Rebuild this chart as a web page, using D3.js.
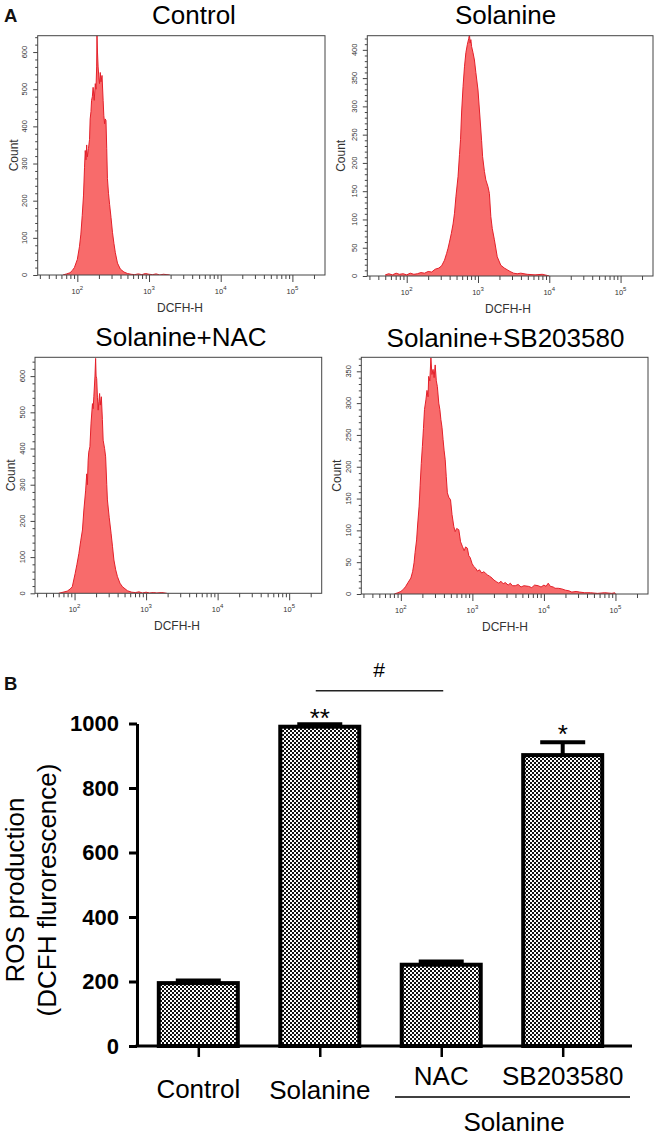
<!DOCTYPE html>
<html>
<head>
<meta charset="utf-8">
<script src="https://cdn.jsdelivr.net/npm/d3@7"></script>
<style>
  html, body { margin: 0; padding: 0; background: #fff; }
  svg { display: block; }
</style>
</head>
<body>
<svg id="chart" width="658" height="1137"></svg>
<script>
// ---------------- DATA ----------------
const panelTitles = ["Control", "Solanine", "Solanine+NAC", "Solanine+SB203580"];
const histXLabel = "DCFH-H";
const histYLabel = "Count";
const histXDomain = [28, 285000];
const histXMajorTicks = [100, 1000, 10000, 100000];
const histXExponents = ["2", "3", "4", "5"];
const histYMax = [644, 425, 652, 372];
const histYMajorTicks = [
  [0, 100, 200, 300, 400, 500, 600],
  [0, 50, 100, 150, 200, 250, 300, 350, 400],
  [0, 100, 200, 300, 400, 500, 600],
  [0, 50, 100, 150, 200, 250, 300, 350]
];
const histYMinorStep = [20, 10, 20, 10];

// [DCFH-H fluorescence, count]
const controlHist = [
  [63,0],[71,3],[79,6],[85,12],[91,20],[100,42],[107,76],[112,110],[117,160],[122,215],
  [126,290],[129,335],[132,310],[135,350],[138,318],[143,340],[148,365],[151,420],[155,440],
  [158,470],[162,480],[166,505],[172,470],[178,515],[182,500],[186,560],[188,645],[191,600],
  [195,560],[200,530],[204,515],[209,545],[214,520],[221,537],[229,470],[234,430],[240,407],
  [245,420],[251,416],[257,340],[263,260],[272,220],[282,190],[295,155],[309,115],[324,85],
  [339,60],[363,32],[398,16],[447,8],[501,4],[562,2],[631,1],[708,3],[794,1],[891,4],
  [1000,2],[1122,1],[1259,3],[1413,0],[1585,2],[1778,1],[1950,0]
];
const solanineHist = [
  [50,2],[56,4],[63,2],[71,5],[79,3],[89,4],[100,2],[112,5],[126,3],[141,4],[158,6],[178,5],
  [200,8],[224,7],[251,12],[282,14],[309,18],[339,28],[363,40],[380,49],[398,60],[422,75],
  [447,92],[468,111],[490,140],[525,176],[550,215],[569,241],[589,290],[617,335],[646,370],
  [676,395],[708,409],[741,420],[759,427],[776,412],[794,418],[813,406],[851,395],[891,382],
  [933,360],[1000,329],[1072,276],[1122,240],[1161,211],[1230,185],[1288,170],[1380,158],
  [1445,146],[1514,105],[1585,84],[1698,64],[1862,34],[2089,19],[2344,14],[2570,11],[2818,8],
  [3162,5],[3548,4],[3981,5],[4898,3],[6310,2],[7943,3],[9333,1],[10000,0]
];
const nacHist = [
  [60,0],[69,3],[79,6],[87,12],[93,18],[102,55],[108,80],[115,110],[122,145],[129,175],
  [135,230],[143,285],[148,330],[151,300],[155,368],[158,390],[164,405],[170,470],[178,524],
  [182,510],[186,543],[193,600],[197,649],[200,600],[204,593],[209,540],[214,506],[219,530],
  [224,552],[229,520],[237,543],[245,480],[251,423],[263,400],[272,377],[282,300],[288,258],
  [305,210],[324,166],[339,130],[355,92],[376,65],[398,46],[431,28],[468,18],[550,7],[631,3],
  [708,2],[794,4],[891,1],[1000,3],[1122,1],[1259,2],[1413,1],[1660,2],[1950,0]
];
const sbHist = [
  [81,0],[91,2],[100,4],[110,8],[117,12],[126,18],[138,25],[146,35],[153,49],[158,65],[166,85],
  [172,110],[180,138],[186,170],[193,205],[200,232],[207,260],[214,290],[224,305],[232,320],
  [240,310],[245,342],[254,335],[263,371],[272,345],[282,353],[292,340],[302,360],[313,335],
  [324,326],[339,300],[351,290],[363,274],[376,262],[389,243],[403,225],[417,211],[431,185],
  [447,159],[468,152],[495,148],[519,125],[550,106],[575,98],[603,103],[646,101],[684,82],
  [724,75],[767,68],[804,74],[851,72],[891,60],[933,57],[989,48],[1047,43],[1122,40],[1175,36],
  [1259,38],[1349,33],[1445,35],[1514,33],[1622,30],[1738,28],[1884,25],[1995,22],[2188,19],
  [2344,17],[2512,20],[2692,16],[2884,18],[3162,14],[3388,17],[3631,13],[3981,13],[4365,15],
  [4786,11],[5248,13],[6095,12],[6761,10],[7413,14],[8318,13],[9120,11],[10000,14],[10715,12],
  [11482,17],[12303,12],[13490,11],[14289,9],[15849,9],[17783,8],[19953,6],[22387,5],[24547,3],
  [28184,4],[31623,3],[37154,2],[44668,2],[56234,1],[70795,2],[89125,1],[97724,2],[100000,0]
];
const histSeries = [controlHist, solanineHist, nacHist, sbHist];

const barCategories = ["Control", "Solanine", "NAC", "SB203580"];
const barValues = [195, 990, 252, 902];
const barErrors = [8, 8, 10, 40];
const barSignificance = ["", "**", "", "*"];
const barYTicks = [0, 200, 400, 600, 800, 1000];
const barYDomain = [0, 1000];
const barYTitle = ["ROS production", "(DCFH flurorescence)"];
const barGroupLabel = "Solanine";
const hashLabel = "#";

// ---------------- LAYOUT / STYLE ----------------
const FONT = "'Liberation Sans', Arial, Helvetica, sans-serif";
const histLayout = [
  { x0: 37.7,  x1: 325,   y0: 35.7,  y1: 275,   tx: 194,   ty: 23.5,  cx: 17.5,  lx: 180 },
  { x0: 367.3, x1: 653,   y0: 35.7,  y1: 276,   tx: 505.5, ty: 23.5,  cx: 345,   lx: 508 },
  { x0: 35,    x1: 321.7, y0: 357.3, y1: 593.3, tx: 181,   ty: 346,   cx: 14.5,  lx: 177 },
  { x0: 361.3, x1: 648,   y0: 357.3, y1: 594,   tx: 505.5, ty: 346.5, cx: 340.5, lx: 505 }
];
const HIST_FILL = "#f86b6b", HIST_STROKE = "#e3202a", AXIS_GREY = "#444";

const svg = d3.select("#chart");
const defs = svg.append("defs");

// checker pattern for bars
const pat = defs.append("pattern").attr("id", "chk")
  .attr("width", 4).attr("height", 4).attr("patternUnits", "userSpaceOnUse");
pat.append("rect").attr("width", 4).attr("height", 4).attr("fill", "#fff");
pat.append("rect").attr("width", 2).attr("height", 2).attr("fill", "#111");
pat.append("rect").attr("x", 2).attr("y", 2).attr("width", 2).attr("height", 2).attr("fill", "#111");

// panel letters
svg.append("text").attr("x", 4).attr("y", 21.5).attr("font-family", FONT)
  .attr("font-weight", "bold").attr("font-size", 18.5).attr("fill", "#111").text("A");
svg.append("text").attr("x", 4).attr("y", 690).attr("font-family", FONT)
  .attr("font-weight", "bold").attr("font-size", 18.5).attr("fill", "#111").text("B");

// ---------------- HISTOGRAMS ----------------
histSeries.forEach((series, i) => {
  const L = histLayout[i];
  const x = d3.scaleLog().domain(histXDomain).range([L.x0, L.x1]);
  const y = d3.scaleLinear().domain([0, histYMax[i]]).range([L.y1, L.y0]);
  const g = svg.append("g");

  defs.append("clipPath").attr("id", "clip" + i)
    .append("rect").attr("x", L.x0).attr("y", L.y0)
    .attr("width", L.x1 - L.x0).attr("height", L.y1 - L.y0);

  const area = d3.area().x(d => x(d[0])).y0(y(0)).y1(d => y(d[1]));
  const line = d3.line().x(d => x(d[0])).y(d => y(d[1]));
  const plot = g.append("g").attr("clip-path", `url(#clip${i})`);
  plot.append("path").datum(series).attr("d", area).attr("fill", HIST_FILL);
  plot.append("path").datum(series).attr("d", line).attr("fill", "none")
    .attr("stroke", HIST_STROKE).attr("stroke-width", 1).attr("stroke-linejoin", "round");

  g.append("rect").attr("x", L.x0).attr("y", L.y0)
    .attr("width", L.x1 - L.x0).attr("height", L.y1 - L.y0)
    .attr("fill", "none").attr("stroke", AXIS_GREY).attr("stroke-width", 1);

  // x axis ticks (log minor ticks)
  const xAx = g.append("g").attr("transform", `translate(0,${L.y1})`)
    .call(d3.axisBottom(x).tickValues(x.ticks()).tickSize(4).tickFormat(""));
  xAx.select(".domain").remove();
  xAx.selectAll(".tick line").attr("stroke", AXIS_GREY)
    .attr("y2", d => histXMajorTicks.includes(d) ? 7 : 4);
  const xl = g.selectAll(null).data(histXMajorTicks).join("text")
    .attr("x", d => x(d)).attr("y", L.y1 + 19)
    .attr("text-anchor", "middle").attr("font-family", FONT)
    .attr("font-size", 7.5).attr("fill", "#333");
  xl.append("tspan").text("10");
  xl.append("tspan").attr("dy", -4).attr("font-size", 6)
    .text((d, k) => histXExponents[k]);

  // y axis ticks
  const yMinor = d3.range(0, histYMax[i] + 0.001, histYMinorStep[i]);
  const yAx = g.append("g").attr("transform", `translate(${L.x0},0)`)
    .call(d3.axisLeft(y).tickValues(yMinor).tickSize(2.5).tickFormat(""));
  yAx.select(".domain").remove();
  yAx.selectAll(".tick line").attr("stroke", AXIS_GREY)
    .attr("x2", d => histYMajorTicks[i].includes(d) ? -4.5 : -2.5);
  g.selectAll(null).data(histYMajorTicks[i]).join("text")
    .attr("transform", d => `translate(${L.x0 - 10.5},${y(d)}) rotate(-90)`)
    .attr("text-anchor", "middle").attr("font-family", FONT)
    .attr("font-size", 7.5).attr("fill", "#333").text(d => d);

  // labels
  g.append("text").attr("transform", `translate(${L.cx},${(L.y0 + L.y1) / 2}) rotate(-90)`)
    .attr("text-anchor", "middle").attr("font-family", FONT).attr("font-size", 12)
    .attr("fill", "#333").text(histYLabel);
  g.append("text").attr("x", L.lx).attr("y", L.y1 + 37)
    .attr("text-anchor", "middle").attr("font-family", FONT).attr("font-size", 12)
    .attr("fill", "#333").text(histXLabel);
  g.append("text").attr("x", L.tx).attr("y", L.ty)
    .attr("text-anchor", "middle").attr("font-family", FONT).attr("font-size", 26)
    .attr("fill", "#000").text(panelTitles[i]);
});

// ---------------- BAR CHART ----------------
const BAR_W = 79;
const by = d3.scaleLinear().domain(barYDomain).range([1046, 723.5]);
const bx = d3.scalePoint().domain(barCategories).range([198.3, 562.7]);
const bg = svg.append("g");

// error bars (behind bars)
barCategories.forEach((c, i) => {
  const cx = bx(c), top = by(barValues[i] + barErrors[i]);
  bg.append("line").attr("x1", cx).attr("x2", cx)
    .attr("y1", by(barValues[i])).attr("y2", top)
    .attr("stroke", "#000").attr("stroke-width", 4);
  bg.append("line").attr("x1", cx - 22.5).attr("x2", cx + 22.5)
    .attr("y1", top).attr("y2", top)
    .attr("stroke", "#000").attr("stroke-width", 4);
});

bg.selectAll(".bar").data(barCategories).join("rect").attr("class", "bar")
  .attr("x", c => bx(c) - BAR_W / 2)
  .attr("y", (c, i) => by(barValues[i]))
  .attr("width", BAR_W)
  .attr("height", (c, i) => by(0) - by(barValues[i]))
  .attr("fill", "url(#chk)").attr("stroke", "#000").attr("stroke-width", 4);

// y axis
const yAxG = bg.append("g").attr("transform", "translate(137,0)")
  .call(d3.axisLeft(by).tickValues(barYTicks).tickFormat(d3.format("d"))
    .tickSize(8).tickSizeOuter(0).tickPadding(10));
yAxG.select(".domain").attr("stroke", "#000").attr("stroke-width", 3);
yAxG.selectAll(".tick line").attr("stroke", "#000").attr("stroke-width", 3);
yAxG.selectAll(".tick text").attr("font-family", FONT).attr("font-weight", "bold")
  .attr("font-size", 22).attr("fill", "#000");

// x axis
bg.append("line").attr("x1", 135.5).attr("x2", 632).attr("y1", 1046).attr("y2", 1046)
  .attr("stroke", "#000").attr("stroke-width", 3);
const xAxG = bg.append("g").attr("transform", "translate(0,1046)")
  .call(d3.axisBottom(bx).tickSize(11).tickFormat(""));
xAxG.select(".domain").remove();
xAxG.selectAll(".tick line").attr("stroke", "#000").attr("stroke-width", 2.5);

// category labels
const labelY = [1098, 1099, 1085, 1085];
bg.selectAll(".clab").data(barCategories).join("text").attr("class", "clab")
  .attr("x", c => bx(c)).attr("y", (c, i) => labelY[i])
  .attr("text-anchor", "middle").attr("font-family", FONT).attr("font-size", 26)
  .attr("fill", "#000").text(c => c);

// group underline + label
bg.append("line").attr("x1", 395).attr("x2", 630).attr("y1", 1097).attr("y2", 1097)
  .attr("stroke", "#000").attr("stroke-width", 1.5);
bg.append("text").attr("x", 514).attr("y", 1131).attr("text-anchor", "middle")
  .attr("font-family", FONT).attr("font-size", 26).attr("fill", "#000").text(barGroupLabel);

// significance
const sigY = [0, 727, 0, 743];
barCategories.forEach((c, i) => {
  if (!barSignificance[i]) return;
  bg.append("text").attr("x", bx(c)).attr("y", sigY[i]).attr("text-anchor", "middle")
    .attr("font-family", FONT).attr("font-size", 26).attr("fill", "#000")
    .text(barSignificance[i]);
});
bg.append("line").attr("x1", bx("Solanine") - 4).attr("x2", bx("NAC") + 2)
  .attr("y1", 690.7).attr("y2", 690.7).attr("stroke", "#222").attr("stroke-width", 1.5);
bg.append("text").attr("x", 379).attr("y", 676.5).attr("text-anchor", "middle")
  .attr("font-family", FONT).attr("font-size", 21).attr("fill", "#000").text(hashLabel);

// y title
const titleG = bg.append("g").attr("transform", "translate(0,890) rotate(-90)");
titleG.append("text").attr("x", 0).attr("y", 24).attr("text-anchor", "middle")
  .attr("font-family", FONT).attr("font-size", 26).attr("fill", "#000").text(barYTitle[0]);
titleG.append("text").attr("x", 0).attr("y", 55.5).attr("text-anchor", "middle")
  .attr("font-family", FONT).attr("font-size", 26).attr("fill", "#000").text(barYTitle[1]);
</script>
</body>
</html>
